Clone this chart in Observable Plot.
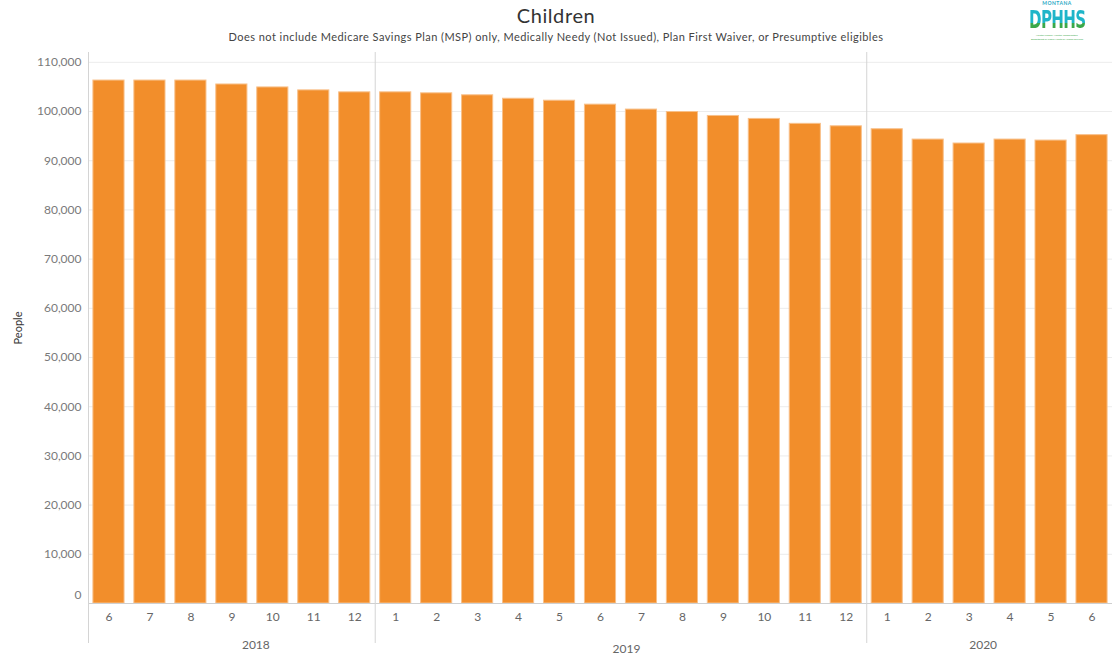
<!DOCTYPE html>
<html>
<head>
<meta charset="utf-8">
<script src="https://cdn.jsdelivr.net/npm/d3@7"></script>
<script src="https://cdn.jsdelivr.net/npm/@observablehq/plot@0.6"></script>
<style>
  html, body { margin: 0; padding: 0; background: #fff; }
  body { width: 1112px; height: 660px; position: relative; overflow: hidden; font-family: Lato, "Open Sans", sans-serif; }
  #header { height: 46px; text-align: center; position: relative; }
  #title { position: absolute; left: 0; right: 0; top: 3px; font-size: 20px; letter-spacing: 0.6px; color: #333; }
  #subtitle { position: absolute; left: 0; right: 0; top: 30px; font-size: 11px; letter-spacing: 0.45px; color: #444; }
  #logo { position: absolute; left: 997px; top: 0px; width: 120px; text-align: center; }
  #logo .mt { font-size: 5px; line-height: 6px; height: 6px; color: #2aa8c4; font-weight: bold; letter-spacing: 0.5px; }
  #logo .dpwrap { height: 28px; line-height: 28px; overflow: visible; }
  #logo .dp { font-family: "DejaVu Sans Condensed", "DejaVu Sans", sans-serif; font-weight: bold; font-size: 24px; line-height: 28px; letter-spacing: -1px;
              display: inline-block; transform: scale(0.7, 1); transform-origin: center top;
              background: linear-gradient(180deg, #1fb5c9 60%, #3aa84a 61%); -webkit-background-clip: text; background-clip: text; -webkit-text-fill-color: transparent; }
  #logo .tg { font-size: 2.5px; line-height: 4px; height: 4px; color: #3aa84a; white-space: nowrap; }
  #chart { position: absolute; left: 0; top: 46px; }
</style>
</head>
<body>
<div id="header">
  <div id="title">Children</div>
  <div id="subtitle">Does not include Medicare Savings Plan (MSP) only, Medically Needy (Not Issued), Plan First Waiver, or Presumptive eligibles</div>
</div>
<div id="logo">
  <div class="mt">MONTANA</div>
  <div class="dpwrap"><span class="dp">DPHHS</span></div>
  <div class="tg">Healthy People. Healthy Communities.</div>
  <div class="tg">Department of Public Health &amp; Human Services</div>
</div>
<div id="chart"></div>
<script>
// ---- data ----
const years  = [2018,2018,2018,2018,2018,2018,2018,
                2019,2019,2019,2019,2019,2019,2019,2019,2019,2019,2019,2019,
                2020,2020,2020,2020,2020,2020];
const months = [6,7,8,9,10,11,12,
                1,2,3,4,5,6,7,8,9,10,11,12,
                1,2,3,4,5,6];
const people = [106300,106300,106300,105500,104900,104300,103900,
                103900,103700,103300,102600,102200,101400,100400,99900,99100,98500,97500,97000,
                96400,94300,93500,94300,94100,95200];
const yearLabels = ["2018", "2019", "2020"];
const yTicks = [0,10000,20000,30000,40000,50000,60000,70000,80000,90000,100000,110000];

// ---- table ----
const rows = people.map((v, i) => ({key: `${years[i]}-${months[i]}`, year: years[i], month: months[i], people: v}));
const keys = rows.map(d => d.key);
const firstOfYear = yearLabels.map(y => rows.find(d => d.year === +y).key);

// ---- layout ----
const W = 1112, H = 614;
const mL = 88, mR = 0, mT = 6, mB = 57;
const step = (W - mL - mR) / keys.length;
// year label anchors (band key) and pixel nudges (styling)
const yearAnchor = ["2018-9", "2019-6", "2020-3"];
const yearDx = [24, 26, 14];
const yearDy = [45, 49, 45];

const yearMarks = yearLabels.map((t, i) =>
  Plot.text([t], {x: () => yearAnchor[i], text: d => d, frameAnchor: "bottom", dx: yearDx[i], dy: yearDy[i], fontSize: 12, fill: "#666"})
);

const chart = Plot.plot({
  width: W, height: H,
  marginLeft: mL, marginRight: mR, marginTop: mT, marginBottom: mB,
  style: {fontFamily: "Lato, 'Open Sans', sans-serif", background: "#fff"},
  x: {domain: keys, paddingInner: 0.24, paddingOuter: 0.12, round: false},
  y: {domain: [0, 112000]},
  marks: [
    Plot.gridY(yTicks, {stroke: "#ececec", strokeOpacity: 1}),
    Plot.barY(rows, {x: "key", y: "people", fill: "#f28e2b", stroke: "#f8c08a", strokeWidth: 1}),
    Plot.ruleY([0], {stroke: "#cfcfcf"}),
    Plot.ruleX(firstOfYear, {x: d => d, dx: -step / 2, stroke: "#d4d4d4", insetBottom: -40}),
    Plot.axisX({tickSize: 0, tickPadding: 9, fontSize: 12, fill: "#666", tickFormat: k => k.split("-")[1], label: null}),
    Plot.axisY(yTicks.filter(t => t !== 0), {tickSize: 0, tickPadding: 7, fontSize: 12, fill: "#7a7a7a", tickFormat: d3.format(","), label: null}),
    Plot.axisY([0], {tickSize: 0, tickPadding: 7, fontSize: 12, fill: "#7a7a7a", tickFormat: d3.format(","), label: null, dy: -8}),
    ...yearMarks,
    Plot.text(["People"], {frameAnchor: "left", textAnchor: "middle", dx: -70, rotate: -90, fontSize: 11, fill: "#333"})
  ]
});
document.getElementById("chart").appendChild(chart);
</script>
</body>
</html>
